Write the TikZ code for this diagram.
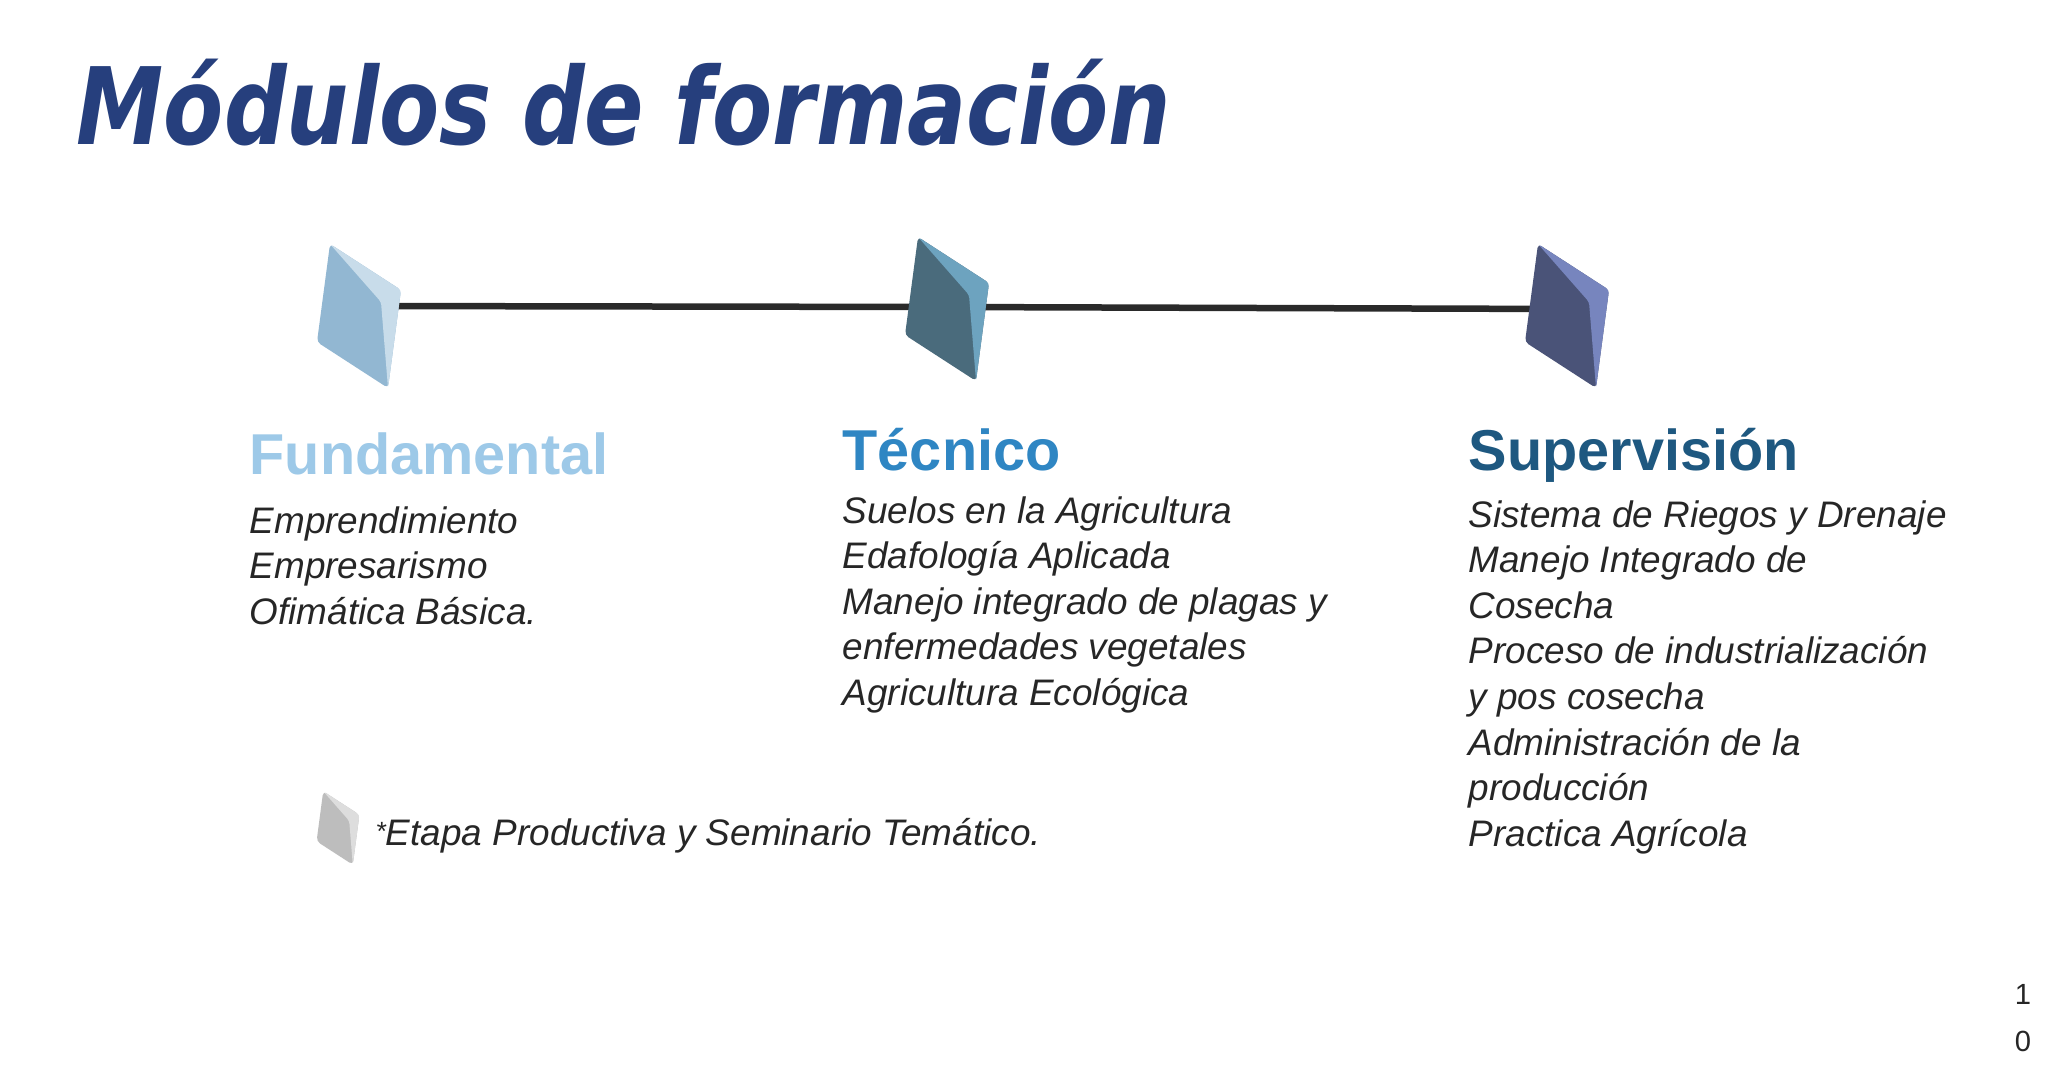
\documentclass[tikz,border=0pt]{standalone}
\usepackage{fontspec}
\setmainfont{Liberation Sans}
\newfontfamily\titlefont[FakeStretch=0.82]{DejaVu Sans}
\usepackage{xcolor}
\usetikzlibrary{calc}

\definecolor{titleblue}{HTML}{263F7D}
\definecolor{fundblue}{HTML}{9DC9E8}
\definecolor{tecblue}{HTML}{2F86C3}
\definecolor{supblue}{HTML}{1E5880}
\definecolor{textgray}{HTML}{262626}
\definecolor{linegray}{HTML}{2A2A2A}
\definecolor{gemAmain}{HTML}{92B7D2}
\definecolor{gemAlight}{HTML}{C8DCEA}
\definecolor{gemBmain}{HTML}{4A6B7C}
\definecolor{gemBlight}{HTML}{6DA3BF}
\definecolor{gemCmain}{HTML}{4A5378}
\definecolor{gemClight}{HTML}{7785BE}
\definecolor{gemDmain}{HTML}{BDBDBD}
\definecolor{gemDlight}{HTML}{DDDDDD}

\begin{document}
\begin{tikzpicture}[x=0.1mm, y=-0.1mm,
        heading/.style={anchor=base west, inner sep=0pt, font=\fontsize{16.4}{20}\selectfont\bfseries},
        itemlist/.style={anchor=north west, inner sep=0pt, align=left, text=textgray, font=\fontsize{10.5}{12.95}\selectfont\itshape},
        pagenum/.style={inner sep=0pt, text=textgray, font=\fontsize{8.3}{10}\selectfont},
        pics/gem/.style 2 args={code={
            \fill[#1, rounded corners=0.4mm] (-29,-72) -- (42,-26) -- (29,72) -- (-42,26) -- cycle;
            \fill[#2, rounded corners=0.3mm] (-29,-72) -- (42,-26) -- (29,72) -- (22,-14) -- cycle;
        }}
        ]
            \fill[white] (0,0) rectangle (2048,1073);
            \useasboundingbox (0,0) rectangle (2048,1073);

            \node[anchor=base west, inner sep=0pt, text=titleblue, font=\titlefont\fontsize{30.4}{36}\selectfont\bfseries\itshape] (title) at (76,145) {Módulos de formación};

            \coordinate (fund) at (359,306);
            \coordinate (tec) at (947,307);
            \coordinate (sup) at (1567,309);
            \coordinate (etapa) at (338,828);

            \draw[line width=0.65mm, linegray] (fund) -- (tec) -- (sup);

            \pic at ($(fund)+(0,10)$) {gem={gemAmain}{gemAlight}};
            \pic at ($(tec)+(0,2)$) {gem={gemBmain}{gemBlight}};
            \pic at ($(sup)+(0,7)$) {gem={gemCmain}{gemClight}};
            \pic[scale=0.51] at (etapa) {gem={gemDmain}{gemDlight}};

            \node[heading, text=fundblue] (fundtitle) at (249,474) {Fundamental};
            \node[heading, text=tecblue] (tectitle) at (842,470) {Técnico};
            \node[heading, text=supblue] (suptitle) at (1468,470) {Supervisión};

            \node[itemlist] (fundlist) at (249,506) {Emprendimiento\\Empresarismo\\Ofimática Básica.};
            \node[itemlist] (teclist) at (842,496) {Suelos en la Agricultura\\Edafología Aplicada\\Manejo integrado de plagas y\\enfermedades vegetales\\Agricultura Ecológica};
            \node[itemlist] (suplist) at (1468,500) {Sistema de Riegos y Drenaje\\Manejo Integrado de\\Cosecha\\Proceso de industrialización\\y pos cosecha\\Administración de la\\producción\\Practica Agrícola};

            \node[anchor=base west, inner sep=0pt, text=textgray, font=\fontsize{10.5}{12.95}\selectfont\itshape] (etapatext) at (375,845) {{\fontsize{7.5}{8}\selectfont\raisebox{1.2pt}{*}}Etapa Productiva y Seminario Temático.};

            \node[pagenum] (pgA) at (2023,994) {1};
            \node[pagenum] (pgB) at (2023,1041) {0};

        \end{tikzpicture}
\end{document}
